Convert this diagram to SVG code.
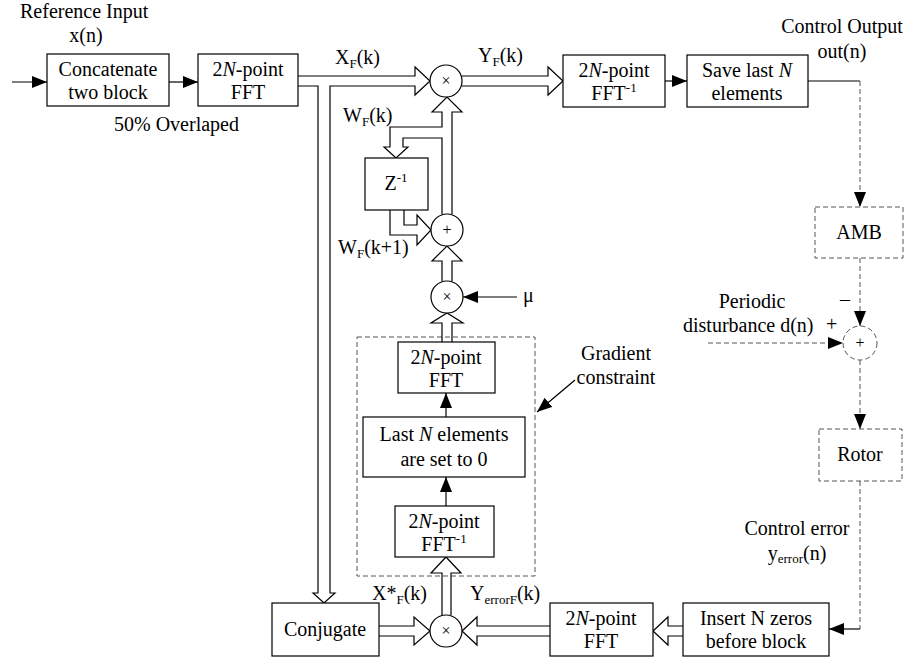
<svg xmlns="http://www.w3.org/2000/svg" width="906" height="658" viewBox="0 0 906 658" font-family="'Liberation Serif','Times New Roman',serif">
<defs>
<style>
text{font-family:"Liberation Serif","Times New Roman",serif;font-size:20px;fill:#000;text-anchor:middle}
.l{text-anchor:start}
.b{fill:#fff;stroke:#000;stroke-width:1.2}
.d{fill:#fff;stroke:#555;stroke-width:1;stroke-dasharray:5,3}
.dn{fill:none;stroke:#555;stroke-width:1;stroke-dasharray:5,3}
.ln{fill:none;stroke:#000;stroke-width:1.2}
.dl{fill:none;stroke:#555;stroke-width:1;stroke-dasharray:5,3}
.sub{font-size:13px}
.op{font-size:16px}
</style>
<marker id="ah" markerUnits="userSpaceOnUse" markerWidth="16" markerHeight="12" refX="15" refY="6" orient="auto">
<path d="M0,0 L15,6 L0,12 Z" fill="#000"/>
</marker>
</defs>

<g id="gradient"><rect class="dn" x="357" y="337" width="178" height="239"/></g>

<g id="connectors">
<line class="ln" x1="12" y1="82" x2="47" y2="82" marker-end="url(#ah)"/>
<line class="ln" x1="169" y1="82" x2="198" y2="82" marker-end="url(#ah)"/>
<polyline class="ln" points="298,76 415,76 415,67 430,81 415,95 415,86 330,86 330,593 335,593 324,603 313,593 318,593 318,86 298,86"/>
<polyline class="ln" points="462,76 548,76 548,67 563,81 548,95 548,86 462,86"/>
<line class="ln" x1="665" y1="81" x2="687" y2="81" marker-end="url(#ah)"/>
<line class="ln" x1="808" y1="81" x2="860" y2="81"/>
<line class="dl" x1="860" y1="81" x2="860" y2="207" marker-end="url(#ah)"/>
<line class="dl" x1="860" y1="258" x2="860" y2="326" marker-end="url(#ah)"/>
<line class="dl" x1="708" y1="343" x2="843" y2="343" marker-end="url(#ah)"/>
<line class="dl" x1="860" y1="360" x2="860" y2="429" marker-end="url(#ah)"/>
<line class="dl" x1="860" y1="481" x2="860" y2="629"/>
<line class="ln" x1="860" y1="629" x2="829" y2="629" marker-end="url(#ah)"/>
<polyline class="ln" points="683,626 668,626 668,617 653,631 668,645 668,636 683,636"/>
<polyline class="ln" points="550,626 477,626 477,617 462,631 477,645 477,636 550,636"/>
<polyline class="ln" points="379,626 414,626 414,617 430,631 414,645 414,636 379,636"/>
<polyline class="ln" points="442,615 442,573 431,573 446,557 461,573 451,573 451,615"/>
<line class="ln" x1="446" y1="506" x2="446" y2="477" marker-end="url(#ah)"/>
<line class="ln" x1="446" y1="417" x2="446" y2="393" marker-end="url(#ah)"/>
<polyline class="ln" points="442,342 442,323 431,323 447,313 463,323 452,323 452,342"/>
<line class="ln" x1="517" y1="297" x2="463" y2="297" marker-end="url(#ah)"/>
<polyline class="ln" points="442,281 442,261 432,261 447,246 462,261 452,261 452,281"/>
<polyline class="ln" points="442,214 442,138 403,138 403,147 408,147 396,158 384,147 390,147 390,127 442,127 442,112 432,112 447,97 462,112 452,112 452,214"/>
<polyline class="ln" points="404,210 404,225 417,225 417,215 431,230 417,245 417,235 390,235 390,210"/>
<line class="ln" x1="575" y1="380" x2="537" y2="412" marker-end="url(#ah)"/>
</g>

<g id="concatenate"><rect class="b" x="47" y="54" width="122" height="52"/><text x="108" y="76">Concatenate</text><text x="108" y="99">two block</text></g>
<g id="fft1"><rect class="b" x="198" y="54" width="100" height="52"/><text x="248" y="76">2<tspan font-style="italic">N</tspan>-point</text><text x="248" y="99">FFT</text></g>
<g id="mult1"><circle class="b" cx="446" cy="81" r="16"/><text class="op" x="446" y="86">×</text></g>
<g id="ifft1"><rect class="b" x="563" y="55" width="102" height="52"/><text x="614" y="77">2<tspan font-style="italic">N</tspan>-point</text><text x="614" y="100">FFT<tspan class="sub" dy="-8">-1</tspan></text></g>
<g id="save"><rect class="b" x="687" y="55" width="121" height="52"/><text x="747" y="77">Save last <tspan font-style="italic">N</tspan></text><text x="747" y="100">elements</text></g>
<g id="amb"><rect class="d" x="815" y="207" width="88" height="51"/><text x="859" y="239">AMB</text></g>
<g id="sum"><circle class="d" cx="860" cy="343" r="17"/><text class="op" x="860" y="348">+</text></g>
<g id="rotor"><rect class="d" x="819" y="429" width="83" height="52"/><text x="860" y="461">Rotor</text></g>
<g id="insert"><rect class="b" x="683" y="603" width="146" height="53"/><text x="756" y="625">Insert N zeros</text><text x="756" y="648">before block</text></g>
<g id="fft3"><rect class="b" x="550" y="603" width="103" height="53"/><text x="601" y="625">2<tspan font-style="italic">N</tspan>-point</text><text x="601" y="648">FFT</text></g>
<g id="mult3"><circle class="b" cx="446" cy="631" r="16"/><text class="op" x="446" y="636">×</text></g>
<g id="conjugate"><rect class="b" x="272" y="603" width="107" height="53"/><text x="325" y="636">Conjugate</text></g>
<g id="ifft2"><rect class="b" x="395" y="506" width="99" height="51"/><text x="444" y="528">2<tspan font-style="italic">N</tspan>-point</text><text x="444" y="551">FFT<tspan class="sub" dy="-8">-1</tspan></text></g>
<g id="lastn"><rect class="b" x="363" y="417" width="162" height="60"/><text x="444" y="441">Last <tspan font-style="italic">N</tspan> elements</text><text x="444" y="466">are set to 0</text></g>
<g id="fft2"><rect class="b" x="398" y="342" width="97" height="51"/><text x="446" y="364">2<tspan font-style="italic">N</tspan>-point</text><text x="446" y="387">FFT</text></g>
<g id="mult2"><circle class="b" cx="447" cy="297" r="16"/><text class="op" x="447" y="302">×</text></g>
<g id="plus"><circle class="b" cx="447" cy="230" r="16"/><text class="op" x="447" y="235">+</text></g>
<g id="delay"><rect class="b" x="365" y="158" width="63" height="52"/><text x="396" y="190">Z<tspan class="sub" dy="-8">-1</tspan></text></g>

<g id="labels">
<text class="l" x="20" y="18">Reference Input</text>
<text x="86" y="42">x(n)</text>
<text class="l" x="114" y="131">50% Overlaped</text>
<text class="l" x="335" y="64">X<tspan class="sub" dy="4">F</tspan><tspan dy="-4">(k)</tspan></text>
<text class="l" x="478" y="62">Y<tspan class="sub" dy="4">F</tspan><tspan dy="-4">(k)</tspan></text>
<text class="l" x="343" y="122">W<tspan class="sub" dy="4">F</tspan><tspan dy="-4">(k)</tspan></text>
<text class="l" x="338" y="254">W<tspan class="sub" dy="4">F</tspan><tspan dy="-4">(k+1)</tspan></text>
<text class="l" x="523" y="302">μ</text>
<text x="842" y="33">Control Output</text>
<text x="842" y="58">out(n)</text>
<text x="752" y="308">Periodic</text>
<text class="l" x="683" y="332">disturbance d(n)</text>
<text class="l" x="826" y="331">+</text>
<text class="l" x="840" y="306">–</text>
<text x="616" y="360">Gradient</text>
<text x="616" y="384">constraint</text>
<text x="797" y="535">Control error</text>
<text x="797" y="560">y<tspan class="sub" dy="3">error</tspan><tspan dy="-3">(n)</tspan></text>
<text class="l" x="372" y="600">X*<tspan class="sub" dy="4">F</tspan><tspan dy="-4">(k)</tspan></text>
<text class="l" x="470" y="600">Y<tspan class="sub" dy="4">errorF</tspan><tspan dy="-4">(k)</tspan></text>
</g>
</svg>
